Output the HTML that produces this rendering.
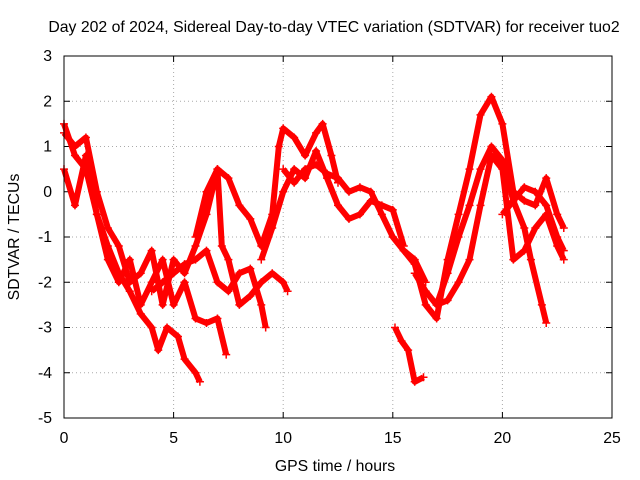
<!DOCTYPE html>
<html><head><meta charset="utf-8"><style>
body{margin:0;background:#fff}
svg{display:block;font-family:"Liberation Sans",sans-serif}
</style></head><body>
<svg id="chart" width="640" height="480">
<text x="334" y="32" text-anchor="middle" font-size="15.8">Day 202 of 2024, Sidereal Day-to-day VTEC variation (SDTVAR) for receiver tuo2</text>
<text x="335" y="471" text-anchor="middle" font-size="15.8">GPS time / hours</text>
<text transform="translate(19,237) rotate(-90)" text-anchor="middle" font-size="15.8">SDTVAR / TECUs</text>
<g id="grid"></g><g id="series"></g>
<rect x="64" y="56" width="548" height="362" fill="none" stroke="#000"/>
</svg>
<script>
const xTicks=[0,5,10,15,20,25];
const yTicks=[-5,-4,-3,-2,-1,0,1,2,3];
const sA=[[0,1.5],[0.5,0.8],[1,0.5],[1.5,-0.5],[2,-1.2],[2.5,-1.8],[3,-2.2],[3.5,-2.7],[4,-3.0],[4.3,-3.5],[4.7,-3.0],[5.2,-3.2],[5.5,-3.7],[6,-4.0],[6.2,-4.2]];
const sB=[[0,0.5],[0.5,-0.3],[1,0.8],[1.5,-0.5],[2,-1.5],[2.5,-2.0],[3,-1.5],[3.5,-2.5],[4,-2.0],[4.5,-1.5],[5,-2.5],[5.5,-2.0],[6,-2.8],[6.5,-2.9],[7,-2.8],[7.4,-3.6]];
const sC=[[0,1.3],[0.5,1.0],[1,1.2],[1.5,0.0],[2,-0.8],[2.5,-1.2],[3,-2.0],[3.5,-1.8],[4,-1.3],[4.5,-2.5],[5,-1.5],[5.5,-1.8],[6,-1.2],[6.5,-0.5],[7,0.5],[7.2,-1.2],[7.5,-1.5],[8,-2.5],[8.5,-2.3],[9,-2.0],[9.5,-1.8],[10,-2.0],[10.2,-2.2]];
const sD=[[4,-2.2],[4.5,-2.0],[5,-1.8],[5.5,-1.6],[6,-1.5],[6.5,-1.3],[7,-2.0],[7.5,-2.2],[8,-1.8],[8.5,-1.7],[9,-2.5],[9.2,-3.0]];
const sE=[[6,-1.0],[6.5,0.0],[7,0.5],[7.5,0.3],[8,-0.3],[8.5,-0.6],[9,-1.2],[9.5,-0.5],[9.8,1.0],[10,1.4],[10.5,1.2],[11,0.8],[11.5,1.3],[11.8,1.5],[12.2,0.8],[12.5,0.2]];
const sF=[[9,-1.5],[9.5,-0.8],[10,0.0],[10.5,0.5],[11,0.3],[11.5,0.9],[12,0.3],[12.5,-0.3],[13,-0.6],[13.5,-0.5],[14,-0.2],[14.5,-0.3],[15,-0.4],[15.5,-1.2]];
const sG=[[10,0.5],[10.5,0.2],[11,0.5],[11.5,0.6],[12,0.4],[12.5,0.3],[13,0.0],[13.5,0.1],[14,0.0],[14.5,-0.5],[15,-1.0],[15.5,-1.3],[16,-1.5],[16.5,-2.0]];
const sH=[[15.1,-3.0],[15.4,-3.3],[15.7,-3.5],[16,-4.2],[16.4,-4.1]];
const sI=[[15.5,-1.3],[16,-1.6],[16.5,-2.5],[17,-2.8],[17.5,-1.5],[18,-0.5],[18.5,0.5],[19,1.7],[19.5,2.1],[20,1.5],[20.5,0.0],[21,-0.2],[21.5,-0.3],[22,0.3],[22.5,-0.5],[22.8,-0.8]];
const sJ=[[16,-1.8],[16.5,-2.2],[17,-2.5],[17.5,-2.4],[18,-2.0],[18.5,-1.5],[19,-0.3],[19.5,0.8],[20,0.5],[20.5,-1.5],[21,-1.3],[21.5,-0.8],[22,-0.5],[22.5,-1.2],[22.8,-1.5]];
const sK=[[17,-2.5],[17.5,-1.8],[18,-1.0],[18.5,-0.3],[19,0.5],[19.5,1.0],[20,0.7],[20.5,-0.2],[21,-0.8],[21.3,-1.5],[21.8,-2.5],[22,-2.9]];
const sL=[[20,-0.5],[20.5,-0.2],[21,0.1],[21.5,0.0],[22,-0.3],[22.5,-1.0],[22.8,-1.3]];
const allSeries=[sA,sB,sC,sD,sE,sF,sG,sH,sI,sJ,sK,sL];
const X=v=>64+v*548/25, Y=v=>418-(v+5)*362/8;
const NS="http://www.w3.org/2000/svg";
const grid=document.getElementById('grid'), ser=document.getElementById('series');
function mk(tag,at,p){const e=document.createElementNS(NS,tag);for(const k in at)e.setAttribute(k,at[k]);p.appendChild(e);return e;}
xTicks.forEach(t=>{
 if(t>0&&t<25){const g=mk('line',{x1:X(t),x2:X(t),y1:56,y2:418,stroke:'#aaa','stroke-dasharray':'1,3'},grid);
 
 }
 mk('line',{x1:X(t),x2:X(t),y1:418,y2:412,stroke:'#000'},grid);
 mk('line',{x1:X(t),x2:X(t),y1:56,y2:62,stroke:'#000'},grid);
 const l=mk('text',{x:X(t),y:443,'text-anchor':'middle','font-size':15.8},grid);l.textContent=t;
 
 
});
yTicks.forEach(t=>{
 if(t>-5&&t<3){const g=mk('line',{x1:64,x2:612,y1:Y(t),y2:Y(t),stroke:'#aaa','stroke-dasharray':'1,3'},grid);
 
 }
 mk('line',{x1:64,x2:70,y1:Y(t),y2:Y(t),stroke:'#000'},grid);
 mk('line',{x1:612,x2:606,y1:Y(t),y2:Y(t),stroke:'#000'},grid);
 const l=mk('text',{x:52,y:Y(t)+5,'text-anchor':'end','font-size':15.8},grid);l.textContent=t;
 
 
});
allSeries.forEach((s,i)=>{
 const g=mk('g',{},ser);
 
 
 mk('polyline',{points:s.map(p=>X(p[0])+','+Y(p[1])).join(' '),fill:'none',stroke:'#f00','stroke-width':6,'stroke-linejoin':'round'},g);
 s.forEach(p=>{
  const m=mk('path',{d:`M${X(p[0])-4},${Y(p[1])}h8M${X(p[0])},${Y(p[1])-4}v8`,stroke:'#f00','stroke-width':1.5},g);
  
  
 });
});
</script>
</body></html>
